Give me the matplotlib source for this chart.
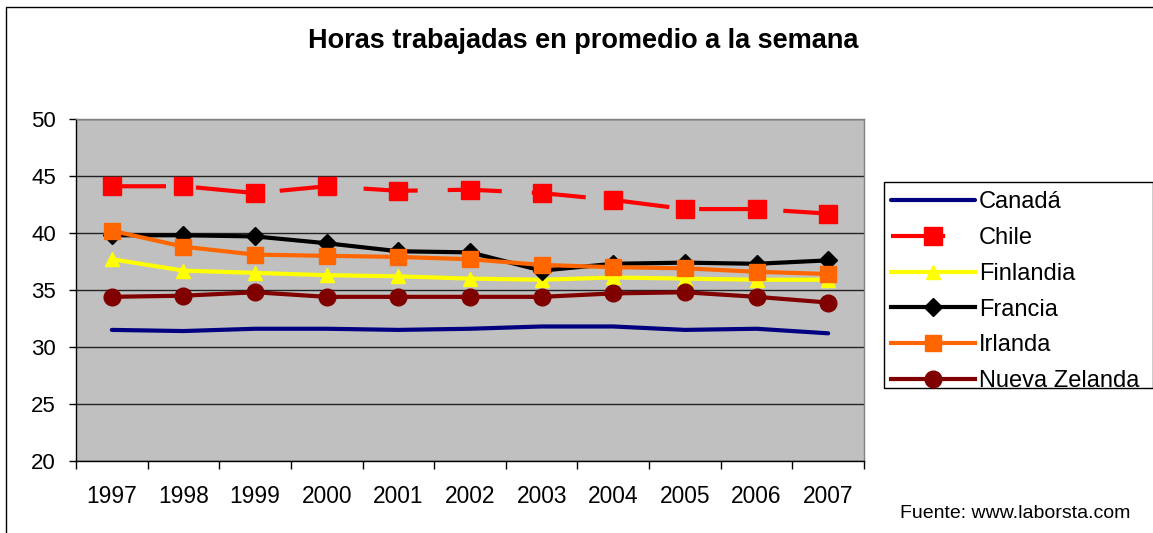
import matplotlib
matplotlib.use("Agg")
import matplotlib.pyplot as plt
from matplotlib.patches import Rectangle

plt.rcParams['font.family'] = ['Liberation Sans', 'DejaVu Sans']

years = ["1997", "1998", "1999", "2000", "2001", "2002", "2003", "2004", "2005", "2006", "2007"]
canada = [31.5, 31.4, 31.6, 31.6, 31.5, 31.6, 31.8, 31.8, 31.5, 31.6, 31.2]
chile = [44.1, 44.1, 43.5, 44.1, 43.7, 43.8, 43.5, 42.9, 42.1, 42.1, 41.7]
finlandia = [37.7, 36.7, 36.5, 36.3, 36.2, 36.0, 35.9, 36.1, 36.0, 35.9, 35.9]
francia = [39.8, 39.8, 39.7, 39.1, 38.4, 38.3, 36.7, 37.3, 37.4, 37.3, 37.6]
irlanda = [40.2, 38.8, 38.1, 38.0, 37.9, 37.7, 37.2, 37.0, 36.9, 36.6, 36.4]
nueva_zelanda = [34.4, 34.5, 34.8, 34.4, 34.4, 34.4, 34.4, 34.7, 34.8, 34.4, 33.9]
yticks = [20, 25, 30, 35, 40, 45, 50]

W, H = 1153, 533
fig = plt.figure(figsize=(W / 100, H / 100), dpi=100)

def fx(px):
    return px / W

def fy(py):
    return 1 - py / H

# outer chart border
fig.patches.append(Rectangle((fx(6), fy(560)), fx(1200), 553 / H, transform=fig.transFigure,
                             fill=False, edgecolor='black', linewidth=1.0))

ax = fig.add_axes([fx(76), fy(461), fx(864 - 76), (461 - 119) / H])
ax.set_facecolor('#C0C0C0')

x = list(range(len(years)))
lw = 3
ax.plot(x, canada, color='#000080', lw=lw, label='Canadá', solid_capstyle='round')
ax.plot(x, chile, color='#FF0000', lw=lw, ls=(0, (13, 7.2)), marker='s', markersize=12.5,
        label='Chile')
ax.plot(x, finlandia, color='#FFFF00', lw=lw, marker='^', markersize=10, label='Finlandia')
ax.plot(x, francia, color='black', lw=lw, marker='D', markersize=9.5, label='Francia')
ax.plot(x, irlanda, color='#FF6600', lw=lw, marker='s', markersize=11.5, label='Irlanda')
ax.plot(x, nueva_zelanda, color='#800000', lw=lw, marker='o', markersize=12, label='Nueva Zelanda')

ax.set_xlim(-0.5, len(years) - 0.5)
ax.set_ylim(20, 50)
ax.set_yticks(yticks)
ax.set_yticklabels([str(v) for v in yticks])
ax.set_xticks(x)
ax.set_xticklabels(years)
ax.set_xticks([i - 0.5 for i in range(len(years) + 1)], minor=True)
ax.tick_params(axis='x', which='major', length=0, pad=17.5, labelsize=16.4)
ax.tick_params(axis='x', which='minor', length=5.8, width=1, color='black', direction='out')
ax.tick_params(axis='y', which='major', length=5, width=1, pad=9.4, labelsize=16, direction='out')
ax.yaxis.grid(True, color='#222222', linewidth=1)
ax.set_axisbelow(True)
for s in ['top', 'right']:
    ax.spines[s].set_color('#808080')
    ax.spines[s].set_linewidth(1)
for s in ['left', 'bottom']:
    ax.spines[s].set_color('black')
    ax.spines[s].set_linewidth(1)

fig.text(fx(583), fy(48.3), 'Horas trabajadas en promedio a la semana', ha='center', va='baseline',
         fontsize=19.5, fontweight='bold')
fig.text(fx(1130), fy(518.5), 'Fuente: www.laborsta.com', ha='right', va='baseline', fontsize=14)

# legend frame
fig.patches.append(Rectangle((fx(884), fy(388)), fx(1152.5 - 884), (388 - 182) / H,
                             transform=fig.transFigure, facecolor='white', edgecolor='black',
                             linewidth=1.0, zorder=1))
fs = 17
fpx = fs * 100 / 72
handles, labels = ax.get_legend_handles_labels()
leg = fig.legend(handles, labels, loc='upper left', bbox_to_anchor=(fx(891), fy(191.5)),
                 bbox_transform=fig.transFigure, borderaxespad=0, frameon=False,
                 fontsize=fs, handlelength=84 / fpx, handletextpad=4 / fpx,
                 labelspacing=0.58, numpoints=1, borderpad=0)
leg.set_zorder(5)

fig.savefig('out.png', dpi=100)
